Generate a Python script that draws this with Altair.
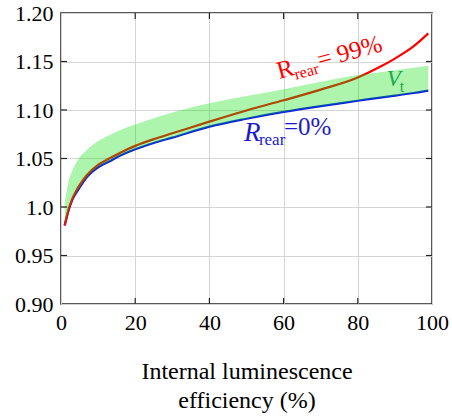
import altair as alt
import pandas as pd

# ---- data ----
x_vals = [1, 2, 3, 4, 5, 7, 10, 13, 16, 20, 25, 30, 40, 50, 60, 70, 80, 86, 90, 95, 99]
r99 = [0.981, 0.997, 1.008, 1.016, 1.0225, 1.033, 1.0435, 1.050, 1.056, 1.063, 1.070,
       1.076, 1.088, 1.0995, 1.110, 1.121, 1.1335, 1.1445, 1.153, 1.1655, 1.179]
r0 = [0.981, 0.996, 1.007, 1.014, 1.020, 1.031, 1.041, 1.047, 1.053, 1.0595, 1.066,
      1.0715, 1.0828, 1.091, 1.098, 1.104, 1.1095, 1.1128, 1.1148, 1.1175, 1.120]
vt_top = [1.004, 1.026, 1.037, 1.045, 1.051, 1.059, 1.068, 1.074, 1.0795, 1.085, 1.0915,
          1.0975, 1.107, 1.1145, 1.1215, 1.129, 1.136, 1.139, 1.141, 1.1435, 1.1457]

x_ticks = [0, 20, 40, 60, 80, 100]
y_ticks = [0.90, 0.95, 1.00, 1.05, 1.10, 1.15, 1.20]
inner_x_ticks = [20, 40, 60, 80]
inner_y_ticks = [0.95, 1.00, 1.05, 1.10, 1.15]

df = pd.DataFrame({"x": x_vals, "r99": r99, "r0": r0, "top": vt_top})

FONT = "Liberation Serif"
W, H = 371, 291

xs = alt.Scale(domain=[0, 100], nice=False, zero=False)
ys = alt.Scale(domain=[0.90, 1.20], nice=False, zero=False)

xaxis = alt.Axis(
    values=x_ticks, labelFlush=False,
    title=["Internal luminescence", "efficiency (%)"],
    titlePadding=26, titleLineHeight=29,
)
yaxis = alt.Axis(
    values=y_ticks, labelFlush=False,
    labelExpr="datum.value == 1 ? '1.0' : format(datum.value, '.2f')",
    title=None,
)

base = alt.Chart(df)

blue = base.mark_line(color="#0a1ee6", strokeWidth=2.2, interpolate="monotone").encode(
    x=alt.X("x:Q", scale=xs, axis=xaxis),
    y=alt.Y("r0:Q", scale=ys, axis=yaxis),
)
red = base.mark_line(color="#ff0000", strokeWidth=2.2, interpolate="monotone").encode(
    x=alt.X("x:Q", scale=xs, axis=xaxis), y=alt.Y("r99:Q", scale=ys, axis=yaxis)
)
band = base.mark_area(color="#00e000", opacity=0.32, interpolate="monotone").encode(
    x=alt.X("x:Q", scale=xs, axis=xaxis), y=alt.Y("top:Q", scale=ys, axis=yaxis), y2="r0:Q"
)

# inward ticks
tx = pd.DataFrame({"v": inner_x_ticks})
ty = pd.DataFrame({"v": inner_y_ticks})
tick_color = "#222"
tb = alt.Chart(tx).mark_rule(color=tick_color, strokeWidth=1.2).encode(
    x=alt.X("v:Q", scale=xs, axis=xaxis), y=alt.value(H), y2=alt.value(H - 6))
tt = alt.Chart(tx).mark_rule(color=tick_color, strokeWidth=1.2).encode(
    x=alt.X("v:Q", scale=xs, axis=xaxis), y=alt.value(0), y2=alt.value(6))
tl = alt.Chart(ty).mark_rule(color=tick_color, strokeWidth=1.2).encode(
    y=alt.Y("v:Q", scale=ys, axis=yaxis), x=alt.value(0), x2=alt.value(6))
tr = alt.Chart(ty).mark_rule(color=tick_color, strokeWidth=1.2).encode(
    y=alt.Y("v:Q", scale=ys, axis=yaxis), x=alt.value(W), x2=alt.value(W - 6))

# labels
def lab(df_, text, size, color, dx=0, dy=0, angle=0, italic=False):
    kw = dict(text=text, font=FONT, fontSize=size, color=color, align="left",
              baseline="alphabetic", dx=dx, dy=dy, angle=angle)
    if italic:
        kw["fontStyle"] = "italic"
    return alt.Chart(df_).mark_text(**kw).encode(
        x=alt.X("x:Q", scale=xs, axis=xaxis), y=alt.Y("y:Q", scale=ys, axis=yaxis))

red_lab = pd.DataFrame({"x": [58.8], "y": [1.132]})
RED = "#ff0000"
rl1 = lab(red_lab, "R", 25, RED, angle=345)
rl2 = lab(red_lab, "rear", 16, RED, dx=16, dy=5, angle=345)
rl3 = lab(red_lab, "= 99%", 25, RED, dx=42, angle=345)

BLUE = "#1a1acc"
blue_lab = pd.DataFrame({"x": [49.3], "y": [1.0676]})
bl1 = lab(blue_lab, "R", 27, BLUE, italic=True)
bl2 = lab(blue_lab, "rear", 17, BLUE, dx=15, dy=4)
bl3 = lab(blue_lab, "=0%", 25, BLUE, dx=40, dy=-6)

GREEN = "#1fa84f"
vt_lab = pd.DataFrame({"x": [87.8], "y": [1.1246]})
vl1 = lab(vt_lab, "V", 23, GREEN, italic=True)
vl2 = lab(vt_lab, "t", 16, GREEN, dx=13, dy=6)

chart = alt.layer(
    blue, red, band, tb, tt, tl, tr, rl1, rl2, rl3, bl1, bl2, bl3, vl1, vl2
).properties(
    width=W, height=H,
    padding={"left": 61, "top": 13, "right": 20, "bottom": 116},
    autosize=alt.AutoSizeParams(type="none"),
    background="white",
).configure_view(
    stroke="#222", strokeWidth=1.5
).configure_axis(
    grid=True, ticks=False, domain=False,
    gridColor="#d4d4d4", gridWidth=1,
    labelFont=FONT, labelFontSize=22, labelColor="#000", labelPadding=8,
    titleFont=FONT, titleFontSize=24, titleFontWeight="normal", titleColor="#000",
).configure_text(font=FONT)

chart.save("out.html", embed_options={"renderer": "svg", "actions": False})
